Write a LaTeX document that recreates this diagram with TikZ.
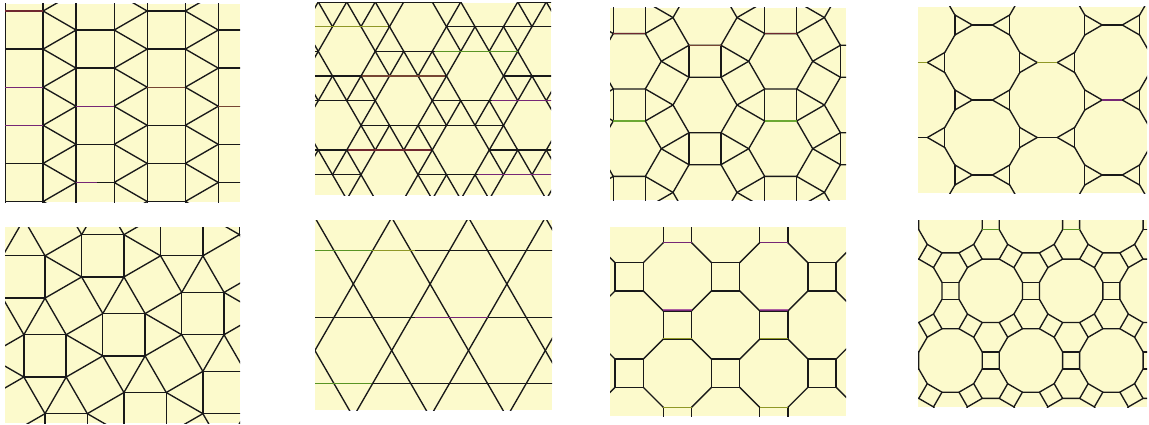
\documentclass[tikz,border=0pt]{standalone}
\definecolor{paper}{RGB}{252,250,204}
\definecolor{ink}{RGB}{25,25,25}
\definecolor{tpurple}{RGB}{150,45,150}
\definecolor{tgreen}{RGB}{110,190,40}
\definecolor{tyell}{RGB}{185,195,45}
\definecolor{tred}{RGB}{140,45,55}
\definecolor{tbrown}{RGB}{150,85,60}
\begin{document}
\begin{tikzpicture}[x=1pt,y=-1pt,
  tl/.style={draw=ink,line width=1.35pt,line join=round,line cap=round},
  tint/.style={draw=#1,line width=1.35pt,opacity=0.75},
  panelbg/.style={fill=paper}]
\useasboundingbox (0,0) rectangle (1149,425);
\fill[white] (0,0) rectangle (1149,425);

% ---------- Panel 1 : 3.3.3.4.4 ----------
\begin{scope}
\clip (5,4) rectangle (240,202);
\fill[panelbg] (5,4) rectangle (240,202);
\foreach \k in {0,...,3}{
  \pgfmathsetmacro{\xl}{5+\k*71.1}
  \pgfmathsetmacro{\xr}{\xl+38.1}
  \pgfmathsetmacro{\xn}{\xl+71.1}
  \pgfmathsetmacro{\off}{mod(\k,2)*19.05}
  \draw[tl] (\xl,-20) -- (\xl,240) (\xr,-20) -- (\xr,240);
  \foreach \j in {-1,...,6}{
    \pgfmathsetmacro{\yy}{11+\off+38.1*\j}
    \draw[tl] (\xl,\yy) -- (\xr,\yy);
    \draw[tl] (\xn,\yy-19.05) -- (\xr,\yy) -- (\xn,\yy+19.05);
  }
}
\draw[tint=tred] (5,11) -- (43.1,11);
\draw[tint=tpurple] (5,87.2) -- (43.1,87.2);
\draw[tint=tpurple] (5,125.3) -- (43.1,125.3);
\draw[tint=tpurple] (76.1,106.25) -- (114.2,106.25);
\draw[tint=tbrown] (147.2,87.2) -- (185.3,87.2);
\draw[tint=tpurple] (76.1,182.45) -- (97,182.45);
\draw[tint=tbrown] (218.3,106.25) -- (240,106.25);
\end{scope}

% ---------- Panel 2 : 3.3.3.3.6 ----------
\begin{scope}
\clip (315,3) rectangle (551,195);
\fill[panelbg] (315,3) rectangle (551,195);
\foreach \j in {-4,...,6}{
  \foreach \i in {-11,...,6}{
    \pgfmathtruncatemacro{\f}{mod(\i+3*\j+700,7)}
    \pgfmathsetmacro{\px}{475+28.5*\i+14.25*\j}
    \pgfmathsetmacro{\py}{76+24.68*\j}
    \ifnum\f>0
      \ifnum\f<6 \draw[tl] (\px,\py) -- ++(28.5,0); \fi
      \ifnum\f=4 \else \draw[tl] (\px,\py) -- ++(14.25,24.68); \fi
      \ifnum\f=5 \else \draw[tl] (\px,\py) -- ++(-14.25,24.68); \fi
    \fi
  }
}
\draw[tint=tgreen] (435,51.32) -- (518,51.32);
\draw[tint=tyell] (315,26.64) -- (388,26.64);
\draw[tint=tpurple] (492,100.68) -- (551,100.68);
\draw[tint=tbrown] (362,76) -- (445,76);
\draw[tint=tred] (348,150.04) -- (431,150.04);
\draw[tint=tpurple] (478,174.72) -- (551,174.72);
\end{scope}

% ---------- Panel 3 : 3.4.6.4 ----------
\begin{scope}
\clip (610,8) rectangle (846,200);
\fill[panelbg] (610,8) rectangle (846,200);
\foreach \a in {-3,...,3}{
  \foreach \b in {-4,...,4}{
    \pgfmathtruncatemacro{\pp}{mod(\a+\b+10,2)}
    \ifnum\pp=0
      \begin{scope}[shift={(705+75.71*\a,105+43.71*\b)}]
        \draw[tl] (0:32) -- (60:32) -- (120:32) -- (180:32) -- (240:32) -- (300:32) -- cycle;
        \foreach \ph in {30,90,150}{
          \draw[tl] ({\ph-30}:32) -- ++(\ph:32);
          \draw[tl] ({\ph+30}:32) -- ++(\ph:32);
        }
      \end{scope}
    \fi
  }
}
\draw[tint=tred] (613.3,33.58) -- (645.3,33.58);
\draw[tint=tred] (764.7,33.58) -- (796.7,33.58);
\draw[tint=tbrown] (689,45.29) -- (721,45.29);
\draw[tint=tgreen] (613.3,121) -- (645.3,121);
\draw[tint=tgreen] (764.7,121) -- (796.7,121);
\end{scope}

% ---------- Panel 4 : 3.12.12 ----------
\begin{scope}
\clip (918,7) rectangle (1147,193);
\fill[panelbg] (918,7) rectangle (1147,193);
\foreach \a in {-2,...,4}{
  \foreach \b in {-3,...,5}{
    \pgfmathtruncatemacro{\pp}{mod(\a+\b+10,2)}
    \ifnum\pp=0
      \begin{scope}[shift={(982.3+64.95*\a,62.5+37.5*\b)}]
        \foreach \nu in {0,30,60,90,120,150,180,240,300}{
          \draw[tl] ({\nu-15}:38.83) -- ({\nu+15}:38.83);
        }
      \end{scope}
    \fi
  }
}
\draw[tint=tyell] (918,62.5) -- (927.4,62.5);
\draw[tint=tyell] (1037.2,62.5) -- (1057.3,62.5);
\draw[tint=tpurple] (1102.2,100) -- (1122.3,100);
\end{scope}

% ---------- Panel 5 : 3.3.4.3.4 ----------
\begin{scope}
\clip (5,227) rectangle (240,423);
\fill[panelbg] (5,227) rectangle (240,423);
\foreach \m in {-3,...,4}{
  \foreach \n in {-2,...,4}{
    \begin{scope}[shift={(102.8+78.93*\m+21.15*\n,255.8-21.15*\m+78.93*\n)}]
      \draw[tl] (-21.15,-21.15) rectangle (21.15,21.15);
      \draw[tl] (21.15,21.15) -- (57.78,0);
      \draw[tl] (-21.15,21.15) -- (0,57.78);
      \draw[tl] (-21.15,-21.15) -- (-57.78,0);
      \draw[tl] (21.15,-21.15) -- (0,-57.78);
      \draw[tl] (21.15,-21.15) -- (57.78,0);
      \draw[tl] (21.15,21.15) -- (0,57.78);
    \end{scope}
  }
}
\end{scope}

% ---------- Panel 6 : 3.6.3.6 ----------
\begin{scope}
\clip (315,220) rectangle (552,410);
\fill[panelbg] (315,220) rectangle (552,410);
\foreach \k in {-1,...,3}{
  \draw[tl] (300,250.7+66.5*\k) -- (570,250.7+66.5*\k);
}
\foreach \k in {-3,...,5}{
  \pgfmathsetmacro{\bx}{353.3+76.8*\k}
  \draw[tl] (\bx-150,24.2) -- (\bx+150,543.8);
  \draw[tl] (\bx+150,24.2) -- (\bx-150,543.8);
}
\draw[tint=tgreen] (315,250.7) -- (372,250.7);
\draw[tint=tyell] (372,250.7) -- (415,250.7);
\draw[tint=tpurple] (415,317.2) -- (488,317.2);
\draw[tint=tgreen] (315,383.7) -- (372,383.7);
\end{scope}

% ---------- Panel 7 : 4.8.8 ----------
\begin{scope}
\clip (610,227) rectangle (846,416);
\fill[panelbg] (610,227) rectangle (846,416);
\foreach \m in {-2,...,6}{
  \foreach \n in {-3,...,5}{
    \pgfmathtruncatemacro{\pp}{mod(\m+\n+10,2)}
    \ifnum\pp=1
      \begin{scope}[shift={(629.2+48.2*\m,276.8+48.2*\n)}]
        \foreach \nu in {0,45,90,135,180,270}{
          \draw[tl] ({\nu-22.5}:36.9) -- ({\nu+22.5}:36.9);
        }
      \end{scope}
    \fi
  }
}
\foreach \sx in {663.3,759.7}{
  \draw[tint=tpurple] (\sx,242.7) -- (\sx+28.2,242.7);
  \draw[tint=tpurple] (\sx,310.1) -- (\sx+28.2,310.1);
  \draw[tint=tyell] (\sx,338.3) -- (\sx+28.2,338.3);
  \draw[tint=tyell] (\sx,407.3) -- (\sx+28.2,407.3);
}
\end{scope}

% ---------- Panel 8 : 4.6.12 ----------
\begin{scope}
\clip (918,220) rectangle (1147,407);
\fill[panelbg] (918,220) rectangle (1147,407);
\foreach \a in {-4,...,4}{
  \foreach \b in {-3,...,3}{
    \begin{scope}[shift={(990.7+80.44*\a+40.22*\b,290.8+69.66*\b)}]
      \draw[tl] (15:32.84) \foreach \t in {45,75,...,345}{ -- (\t:32.84)} -- cycle;
      \foreach \r in {0,60,120}{
        \draw[tl,rotate=\r] (31.72,-8.5) -- (48.72,-8.5);
        \draw[tl,rotate=\r] (31.72,8.5) -- (48.72,8.5);
      }
    \end{scope}
  }
}
\draw[tint=tgreen] (982.2,229.6) -- (999.2,229.6);
\draw[tint=tgreen] (1062.6,229.6) -- (1079.6,229.6);
\end{scope}
\end{tikzpicture}
\end{document}
